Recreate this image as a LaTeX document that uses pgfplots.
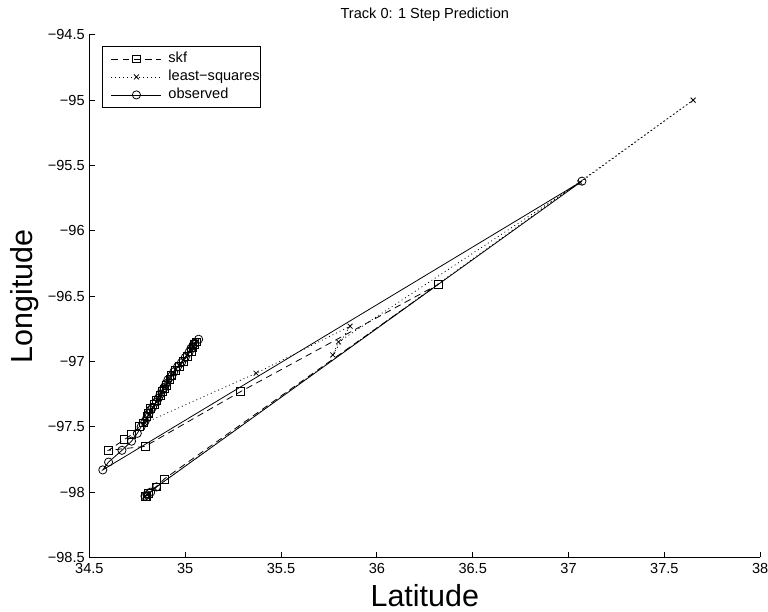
\documentclass[border=0pt]{standalone}
\usepackage{fontspec}
\setmainfont{Liberation Sans}
\usepackage{pgfplots}
\pgfplotsset{compat=1.18}

\begin{document}
\begin{tikzpicture}
\path[use as bounding box] (0,0) rectangle (580pt,462pt);
\begin{axis}[
    at={(67.5pt,41pt)}, anchor=south west,
    scale only axis,
    width=506.6pt, height=394.7pt,
    xmin=34.5, xmax=38, ymin=-98.5, ymax=-94.5,
    axis x line*=bottom, axis y line*=left,
    axis line style={-, line width=0.6pt},
    tick align=inside,
    major tick length=4.3pt,
    tick style={line width=0.6pt, black},
    xtick={34.5,35,35.5,36,36.5,37,37.5,38},
    xticklabels={34.5,35,35.5,36,36.5,37,37.5,38},
    ytick={-98.5,-98,-97.5,-97,-96.5,-96,-95.5,-95,-94.5},
    yticklabels={−98.5,−98,−97.5,−97,−96.5,−96,−95.5,−95,−94.5},
    ticklabel style={font=\fontsize{11}{13}\selectfont},
    xticklabel style={yshift=-1.2pt},
    title={Track 0: 1 Step Prediction},
    title style={at={(axis description cs:0.5,1.0228)}, anchor=center, font=\fontsize{11}{13}\selectfont},
    xlabel={Latitude},
    xlabel style={at={(axis description cs:0.5,-0.0735)}, anchor=center, font=\fontsize{23}{26}\selectfont},
    ylabel={Longitude},
    ylabel style={at={(axis description cs:-0.0962,0.5)}, anchor=center, font=\fontsize{23}{26}\selectfont},
    legend image code/.code={\path (0pt,0pt) (6.1pt,0pt);
        \draw[mark repeat=2,mark phase=2,#1] plot coordinates {(6.1pt,0pt)(25pt,0pt)(43.9pt,0pt)};},
    legend style={at={(axis description cs:0.0186,0.979)}, anchor=north west,
        draw=black, line width=0.6pt, font=\fontsize{11}{13}\selectfont,
        inner xsep=0.5pt, inner ysep=2.8pt, row sep=0pt, column sep=5pt,
        nodes={inner xsep=0pt, inner ysep=1.55pt, text height=8pt, text depth=2.5pt},
        cells={anchor=west}},
    every axis plot/.append style={line width=0.6pt, black},
]
% skf
\addplot[dash pattern=on 5pt off 3.5pt, mark=square, mark size=3pt, mark options={solid}] table {
34.79 -98.03
34.80 -98.03
34.81 -98.01
34.85 -97.96
34.89 -97.90
36.32 -96.41
35.29 -97.23
34.79 -97.65
34.60 -97.68
34.68 -97.60
34.72 -97.56
34.76 -97.50
34.78 -97.47
34.80 -97.42
34.81 -97.40
34.82 -97.36
34.84 -97.33
34.85 -97.30
34.87 -97.26
34.88 -97.23
34.89 -97.21
34.90 -97.18
34.92 -97.14
34.93 -97.11
34.95 -97.07
34.97 -97.04
34.99 -97.00
35.01 -96.96
35.03 -96.92
35.04 -96.89
35.05 -96.87
35.06 -96.85
};
\addlegendentry{skf}
% least squares
\addplot[dash pattern=on 0.7pt off 2.3pt, mark=x, mark size=2.6pt, mark options={solid}] table {
34.79 -98.03
34.80 -98.02
34.81 -98.01
34.84 -97.97
37.65 -95.00
37.06 -95.63
35.80 -96.85
35.77 -96.95
35.86 -96.73
35.37 -97.09
34.79 -97.47
34.80 -97.44
34.81 -97.41
34.82 -97.38
34.83 -97.35
34.85 -97.31
34.86 -97.29
34.87 -97.26
34.88 -97.23
34.90 -97.19
34.91 -97.16
34.92 -97.13
34.94 -97.09
34.95 -97.06
34.97 -97.03
34.99 -96.99
35.01 -96.95
35.03 -96.91
35.04 -96.89
35.05 -96.87
35.06 -96.85
};
\addlegendentry{least−squares}
% observed
\addplot[solid, mark=o, mark size=3.1pt] table {
34.79 -98.03
34.80 -98.02
34.82 -98.00
34.85 -97.96
37.07 -95.62
34.57 -97.83
34.60 -97.77
34.67 -97.68
34.72 -97.61
34.75 -97.55
34.77 -97.50
34.79 -97.46
34.80 -97.43
34.81 -97.40
34.82 -97.37
34.83 -97.35
34.85 -97.31
34.86 -97.28
34.87 -97.25
34.88 -97.22
34.89 -97.20
34.90 -97.17
34.91 -97.14
34.93 -97.11
34.94 -97.08
34.96 -97.04
34.98 -97.01
35.00 -96.97
35.02 -96.93
35.03 -96.90
35.04 -96.88
35.05 -96.86
35.07 -96.83
};
\addlegendentry{observed}
\end{axis}
\end{tikzpicture}
\end{document}
